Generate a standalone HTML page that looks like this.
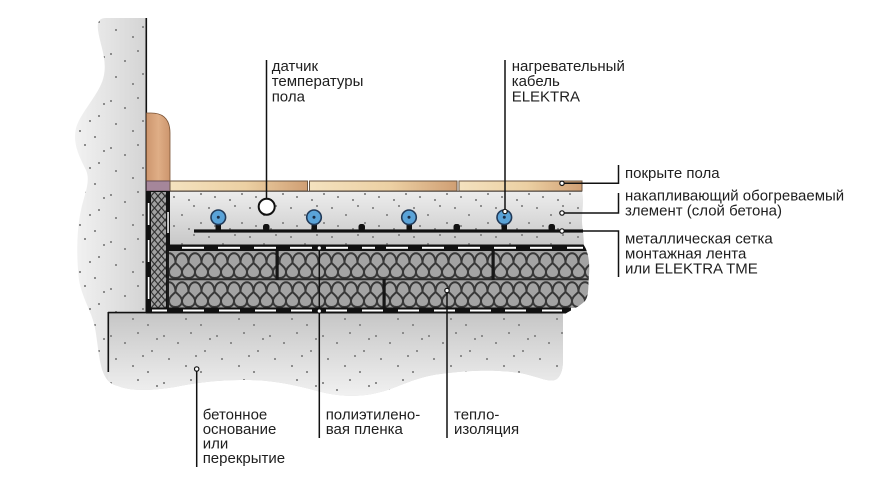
<!DOCTYPE html>
<html><head><meta charset="utf-8">
<style>html,body{margin:0;padding:0;background:#fff;}svg{display:block}</style></head>
<body>
<svg width="870" height="485" viewBox="0 0 870 485" xmlns="http://www.w3.org/2000/svg">
<defs>
<linearGradient id="gWall" x1="72" y1="0" x2="146" y2="0" gradientUnits="userSpaceOnUse">
<stop offset="0" stop-color="#f3f3f3"/><stop offset="1" stop-color="#d4d4d4"/></linearGradient>
<linearGradient id="gSlab" x1="0" y1="313" x2="0" y2="398" gradientUnits="userSpaceOnUse">
<stop offset="0" stop-color="#c6c6c6"/><stop offset="1" stop-color="#f2f2f2"/></linearGradient>
<linearGradient id="gScreed" x1="0" y1="191" x2="0" y2="245" gradientUnits="userSpaceOnUse">
<stop offset="0" stop-color="#ededed"/><stop offset="1" stop-color="#c8c8c8"/></linearGradient>
<linearGradient id="gTile" x1="0" y1="0" x2="1" y2="0">
<stop offset="0" stop-color="#f4e2bf"/><stop offset="0.55" stop-color="#ecd0a3"/><stop offset="1" stop-color="#d09f74"/></linearGradient>
<linearGradient id="gBase" x1="0" y1="0" x2="1" y2="0">
<stop offset="0" stop-color="#cd966e"/><stop offset="0.5" stop-color="#dfae86"/><stop offset="1" stop-color="#cd966e"/></linearGradient>
<pattern id="pDots" width="53" height="47" patternUnits="userSpaceOnUse">
<g fill="#8c8c8c">
<rect x="4" y="6" width="2" height="2"/><rect x="18" y="13" width="2" height="2"/>
<rect x="31" y="3" width="2" height="2"/><rect x="45" y="21" width="2" height="2"/>
<rect x="9" y="29" width="2" height="2"/><rect x="26" y="36" width="2" height="2"/>
<rect x="41" y="42" width="2" height="2"/><rect x="50" y="9" width="2" height="2"/>
<rect x="36" y="26" width="2" height="2"/>
</g></pattern>
<pattern id="pDots2" width="41" height="29" patternUnits="userSpaceOnUse">
<g fill="#8e8e8e">
<rect x="3" y="4" width="2" height="2"/><rect x="17" y="11" width="2" height="2"/>
<rect x="29" y="2" width="2" height="2"/><rect x="36" y="19" width="2" height="2"/>
<rect x="9" y="22" width="2" height="2"/><rect x="24" y="25" width="2" height="2"/>
</g></pattern>
<pattern id="pIns1" x="0" y="251" width="13" height="28" patternUnits="userSpaceOnUse">
<rect width="13" height="28" fill="#a3a3a3"/>
<g fill="none" stroke="#383838" stroke-width="2">
<path d="M-6.5,12 C-6.5,-1 6.5,-1 6.5,12"/><path d="M6.5,12 C6.5,-1 19.5,-1 19.5,12"/>
<path d="M6.5,12 C2,16 0,18 0,21 C0,25 3,27 6.5,27 C10,27 13,25 13,21 C13,18 11,16 6.5,12"/>
</g></pattern>
<pattern id="pIns2" x="0" y="280" width="13" height="28" patternUnits="userSpaceOnUse">
<rect width="13" height="28" fill="#a3a3a3"/>
<g fill="none" stroke="#383838" stroke-width="2">
<path d="M-6.5,12 C-6.5,-1 6.5,-1 6.5,12"/><path d="M6.5,12 C6.5,-1 19.5,-1 19.5,12"/>
<path d="M6.5,12 C2,16 0,18 0,21 C0,25 3,27 6.5,27 C10,27 13,25 13,21 C13,18 11,16 6.5,12"/>
</g></pattern>
<pattern id="pHex" x="151" y="192" width="7" height="8" patternUnits="userSpaceOnUse">
<rect width="7" height="8" fill="#a2a2a2"/>
<path d="M3.5,0 L7,4 L3.5,8 L0,4 Z" fill="none" stroke="#333" stroke-width="1.2"/>
</pattern>
<clipPath id="cIns">
<path d="M146,244 L583,244 C588,250 590,262 589,275 C588,288 589,296 585,301 C579,307 571,310 565,314 L146,314 Z"/>
</clipPath>
<clipPath id="cSil">
<path d="M146,18 L106,18 C99,18 97,22 98,30 C100,45 107,58 104,75 C101,92 84,108 77,125 C71,142 80,158 86,170 C91,182 84,195 81,210 C77,228 76,255 79,280 C82,298 92,312 95,328 C98,345 99,362 103,372 C106,380 110,384 118,386 C130,391 150,391 175,387 C195,383 215,380 245,380 C270,380 290,384 310,389 C330,395 350,398 372,394 C395,390 410,378 440,374 C470,370 500,369 525,374 C542,378 552,384 558,378 C563,372 563,365 563,355 L563,313 L146,313 Z"/>
</clipPath>
</defs>

<!-- wall + slab silhouette -->
<path d="M146,18 L106,18 C99,18 97,22 98,30 C100,45 107,58 104,75 C101,92 84,108 77,125 C71,142 80,158 86,170 C91,182 84,195 81,210 C77,228 76,255 79,280 C82,298 92,312 95,328 C98,345 99,362 103,372 C106,380 110,384 118,386 C130,391 150,391 175,387 C195,383 215,380 245,380 C270,380 290,384 310,389 C330,395 350,398 372,394 C395,390 410,378 440,374 C470,370 500,369 525,374 C542,378 552,384 558,378 C563,372 563,365 563,355 L563,313 L146,313 Z" fill="url(#gWall)"/>
<g clip-path="url(#cSil)">
<rect x="108" y="313" width="460" height="90" fill="url(#gSlab)"/>
<rect x="60" y="0" width="510" height="410" fill="url(#pDots)"/>
</g>

<!-- wall face / slab edges -->
<line x1="146.3" y1="18" x2="146.3" y2="313" stroke="#111" stroke-width="1.6"/>
<line x1="108.3" y1="312" x2="108.3" y2="372" stroke="#111" stroke-width="1.6"/>
<line x1="108" y1="312.6" x2="148" y2="312.6" stroke="#111" stroke-width="1.6"/>

<!-- baseboard -->
<path d="M146.5,181 L146.5,113 L151,113 Q170,113 170,133 L170,181 Z" fill="url(#gBase)" stroke="#7a5335" stroke-width="0.8"/>
<rect x="146.5" y="181" width="23.5" height="10" fill="#a5869a" stroke="#5a4450" stroke-width="0.8"/>

<!-- screed -->
<path d="M170,191 L582,191 C585,205 580,216 583,230 L584,245 L170,245 Z" fill="url(#gScreed)"/>
<path d="M170,191 L582,191 C585,205 580,216 583,230 L584,245 L170,245 Z" fill="url(#pDots2)"/>

<!-- tiles -->
<rect x="170" y="181" width="137.5" height="10" fill="url(#gTile)" stroke="#6d5743" stroke-width="1"/>
<rect x="309.5" y="181" width="147.5" height="10" fill="url(#gTile)" stroke="#6d5743" stroke-width="1"/>
<rect x="459" y="181" width="123" height="10" fill="url(#gTile)" stroke="#6d5743" stroke-width="1"/>
<line x1="170" y1="191.3" x2="582" y2="191.3" stroke="#4a4038" stroke-width="1"/>

<!-- edge strip -->
<rect x="146" y="191" width="24" height="122" fill="#111"/>
<rect x="151" y="192" width="15" height="116" fill="url(#pHex)"/>
<g fill="#fff">
<rect x="147.8" y="203" width="1.6" height="22"/>
<rect x="147.8" y="240" width="1.6" height="22"/>
<rect x="147.8" y="277" width="1.6" height="22"/>
<rect x="167.3" y="212" width="1.5" height="21"/>
</g>

<!-- insulation -->
<g clip-path="url(#cIns)">
<rect x="168" y="251" width="425" height="28" fill="url(#pIns1)"/>
<rect x="168" y="280" width="425" height="28" fill="url(#pIns2)"/>
<line x1="166" y1="279.3" x2="595" y2="279.3" stroke="#2a2a2a" stroke-width="2"/>
<rect x="275.5" y="250" width="3.2" height="30" fill="#161616"/>
<rect x="491.5" y="250" width="3.2" height="30" fill="#161616"/>
<rect x="382.5" y="279" width="3.2" height="30" fill="#161616"/>
<line x1="168" y1="245" x2="168" y2="310" stroke="#1a1a1a" stroke-width="2"/>
<rect x="166" y="244.5" width="425" height="6.5" fill="#111"/>
<rect x="146" y="307.5" width="425" height="6" fill="#111"/>
<g fill="#fff">
<rect x="182" y="246.8" width="22" height="2"/><rect x="218" y="246.8" width="22" height="2"/>
<rect x="254" y="246.8" width="22" height="2"/><rect x="290" y="246.8" width="22" height="2"/>
<rect x="326" y="246.8" width="22" height="2"/><rect x="362" y="246.8" width="13" height="2"/>
<rect x="386" y="246.8" width="22" height="2"/><rect x="422" y="246.8" width="22" height="2"/>
<rect x="458" y="246.8" width="22" height="2"/><rect x="494" y="246.8" width="22" height="2"/>
<rect x="530" y="246.8" width="22" height="2"/><rect x="567" y="246.8" width="16" height="2"/>
<rect x="152" y="309.5" width="15" height="2"/><rect x="183" y="309.5" width="21" height="2"/>
<rect x="219" y="309.5" width="21" height="2"/><rect x="255" y="309.5" width="21" height="2"/>
<rect x="291" y="309.5" width="21" height="2"/><rect x="326" y="309.5" width="21" height="2"/>
<rect x="362" y="309.5" width="21" height="2"/><rect x="398" y="309.5" width="21" height="2"/>
<rect x="434" y="309.5" width="21" height="2"/><rect x="470" y="309.5" width="21" height="2"/>
<rect x="505" y="309.5" width="21" height="2"/><rect x="542" y="309.5" width="20" height="2"/>
</g>
</g>

<!-- mesh -->
<rect x="194" y="229.4" width="389" height="3.2" fill="#111"/>
<g fill="#111">
<rect x="263" y="224" width="6.5" height="7" rx="2.5"/>
<rect x="358.5" y="224" width="6.5" height="7" rx="2.5"/>
<rect x="453.5" y="224" width="6.5" height="7" rx="2.5"/>
<rect x="548.5" y="224" width="6.5" height="7" rx="2.5"/>
<rect x="215.5" y="221" width="5.5" height="10" rx="2"/>
<rect x="311.5" y="221" width="5.5" height="10" rx="2"/>
<rect x="406.5" y="221" width="5.5" height="10" rx="2"/>
<rect x="501.5" y="221" width="5.5" height="10" rx="2"/>
</g>

<!-- cables -->
<g stroke="#223a58" stroke-width="1.6" fill="#5aa3d8">
<circle cx="218.3" cy="217.3" r="7.3"/>
<circle cx="314" cy="217.3" r="7.3"/>
<circle cx="409" cy="217.3" r="7.3"/>
<circle cx="504.3" cy="217.3" r="7.3"/>
</g>
<g fill="#1a2b44">
<circle cx="218.3" cy="217.3" r="1.5"/><circle cx="314" cy="217.3" r="1.5"/>
<circle cx="409" cy="217.3" r="1.5"/><circle cx="504.3" cy="217.3" r="1.5"/>
</g>

<!-- sensor -->
<circle cx="266.7" cy="206.7" r="8" fill="#fff" stroke="#111" stroke-width="2"/>

<!-- leader lines -->
<g stroke="#111" stroke-width="1.5" fill="none">
<line x1="266.5" y1="60" x2="266.5" y2="199"/>
<line x1="505" y1="60" x2="505" y2="211"/>
<polyline points="562,183.3 618.5,183.3 618.5,165"/>
<polyline points="562,213 618.5,213 618.5,193"/>
<polyline points="562,231 618.5,231 618.5,277"/>
<line x1="319.3" y1="248" x2="319.3" y2="438"/>
<line x1="447" y1="290" x2="447" y2="438"/>
<line x1="196.7" y1="369" x2="196.7" y2="467"/>
</g>
<g fill="#fff" stroke="#111" stroke-width="1.2">
<circle cx="505" cy="211.5" r="2.2"/>
<circle cx="562" cy="183.3" r="2.2"/>
<circle cx="562" cy="213" r="2.2"/>
<circle cx="562" cy="231" r="2.2"/>
<circle cx="319.3" cy="248" r="2.2"/>
<circle cx="319.3" cy="311" r="2.2"/>
<circle cx="447" cy="290.5" r="2.2"/>
<circle cx="196.7" cy="369" r="2.2"/>
</g>

<!-- labels -->
<g font-family="'Liberation Sans','DejaVu Sans',sans-serif" font-size="15" fill="#1e1e1e">
<text x="271.7" y="71">датчик</text>
<text x="271.7" y="86">температуры</text>
<text x="271.7" y="101.5">пола</text>
<text x="511.7" y="71">нагревательный</text>
<text x="511.7" y="86">кабель</text>
<text x="511.7" y="101.5">ELEKTRA</text>
<text x="625" y="178">покрыте пола</text>
<text x="625" y="200.7">накапливающий обогреваемый</text>
<text x="625" y="215.5">злемент (слой бетона)</text>
<text x="625" y="243.3">металлическая сетка</text>
<text x="625" y="258.3">монтажная лента</text>
<text x="625" y="273.3">или ELEKTRA TME</text>
<text x="202.7" y="419.3">бетонное</text>
<text x="202.7" y="434">основание</text>
<text x="202.7" y="448.5">или</text>
<text x="202.7" y="463">перекрытие</text>
<text x="325.7" y="419.3">полиэтилено-</text>
<text x="325.7" y="434">вая пленка</text>
<text x="454" y="419.3">тепло-</text>
<text x="454" y="434">изоляция</text>
</g>
</svg>
</body></html>
